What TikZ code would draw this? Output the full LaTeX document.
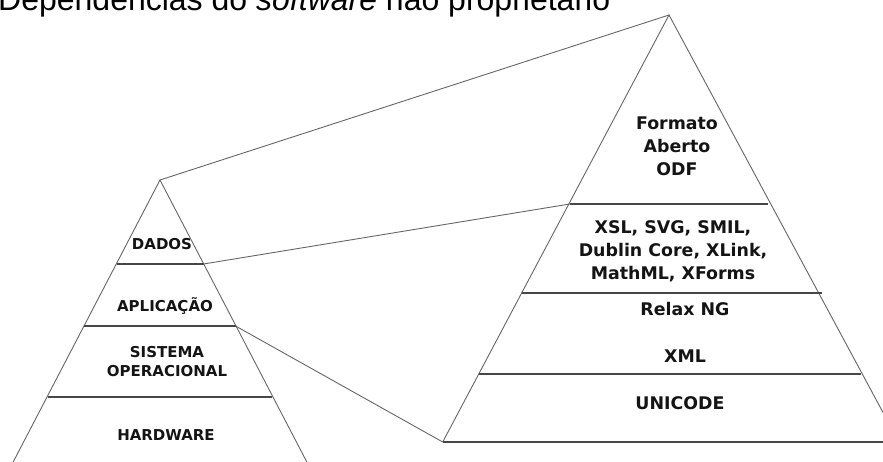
\documentclass[tikz,border=0pt]{standalone}
\usepackage{fontspec}
\setmainfont{DejaVu Sans}
\newfontfamily\titlefont{Liberation Sans}
\usetikzlibrary{positioning}

\begin{document}
\begin{tikzpicture}[x=1pt,y=-1pt,
  side/.style={draw=black!60, line width=0.9pt},
  divider/.style={draw=black!72, line width=1.4pt},
  link/.style={draw=black!60, line width=0.9pt},
  lbl/.style={font=\bfseries\fontsize{15}{19.7}\selectfont, text=black!92, align=center, inner sep=0pt, anchor=base},
  rlbl/.style={lbl, font=\bfseries\fontsize{17.4}{22.7}\selectfont}
]
  \useasboundingbox (0,0) rectangle (883,461);
  \clip (0,0) rectangle (883,461);

  \node[anchor=base west, inner sep=0pt, font=\titlefont\fontsize{32}{36}\selectfont] (title) at (-2,10) {Dependências do \textit{software} não proprietário};

  % left pyramid
  \coordinate (la)  at (160,180);
  \coordinate (lbl) at (9,470);
  \coordinate (lbr) at (311,470);
  \coordinate (l1l) at (116.5,264); \coordinate (l1r) at (203.5,264);
  \coordinate (l2l) at (84.4,326);  \coordinate (l2r) at (235.6,326);
  \coordinate (l3l) at (47.6,397);  \coordinate (l3r) at (272.4,397);

  % right pyramid
  \coordinate (ra)  at (669,15);
  \coordinate (rbl) at (442.7,442);
  \coordinate (rbr) at (900,442);
  \coordinate (rsr) at (900,444);
  \coordinate (r1l) at (569.8,204); \coordinate (r1r) at (768.2,204);
  \coordinate (r2l) at (521.7,293); \coordinate (r2r) at (822,293);
  \coordinate (r3l) at (478.7,374); \coordinate (r3r) at (861,374);

  \draw[side] (lbl) -- (la) -- (lbr);
  \foreach \n in {1,2,3} \draw[divider] (l\n l) -- (l\n r);

  \draw[side] (rbl) -- (ra) -- (rsr);
  \foreach \n in {1,2,3} \draw[divider] (r\n l) -- (r\n r);
  \draw[divider] (rbl) -- (rbr);

  % links between the pyramids
  \draw[link] (la) -- (ra);
  \draw[link] (l1r) -- (r1l);
  \draw[link] (l2r) -- (rbl);

  \node[lbl] (dados) at (162,249.5) {DADOS};
  \node[lbl] (aplic) at (165,311.7) {APLICAÇÃO};
  \node[lbl] (so)    at (167,376.7) {SISTEMA\\OPERACIONAL};
  \node[lbl] (hw)    at (166,440.7) {HARDWARE};

  \node[rlbl] (odf)   at (677,175)   {Formato\\Aberto\\ODF};
  \node[rlbl] (xsl)   at (673,279)   {XSL, SVG, SMIL,\\Dublin Core, XLink,\\MathML, XForms};
  \node[rlbl] (relax) at (685,315)   {Relax NG};
  \node[rlbl] (xml)   at (685,362)   {XML};
  \node[rlbl] (uni)   at (680,409)   {UNICODE};
\end{tikzpicture}
\end{document}
